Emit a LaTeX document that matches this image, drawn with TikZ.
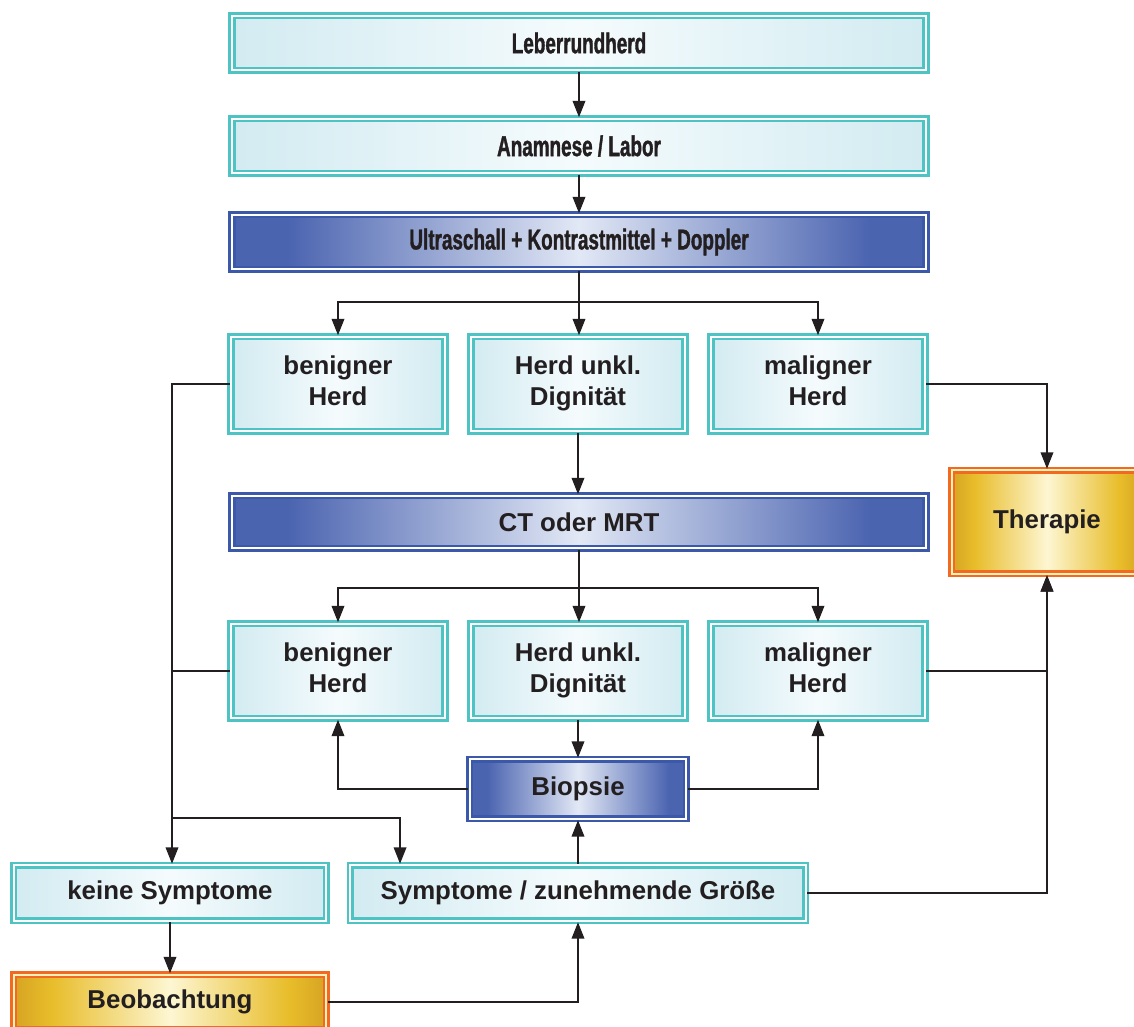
\documentclass[tikz,border=0pt]{standalone}
\usepackage{fontspec}
\setmainfont{Liberation Sans}
\newfontfamily\narrowsf{Liberation Sans}[FakeStretch=0.66,FakeBold=1.2]
\usepackage{tikz}
\usetikzlibrary{arrows.meta,positioning}

\definecolor{tealline}{HTML}{4DC3C3}
\definecolor{tealedge}{HTML}{D2EBF1}
\definecolor{tealmid}{HTML}{F5FBFD}
\definecolor{blueline}{HTML}{3C58A8}
\definecolor{blueedge}{HTML}{4B64B0}
\definecolor{bluemid}{HTML}{E2E8F5}
\definecolor{orangeline}{HTML}{F26A22}
\definecolor{golddark}{HTML}{D6A423}
\definecolor{goldedge}{HTML}{E8BD2A}
\definecolor{goldmid}{HTML}{FDF6D2}
\definecolor{goldgap}{HTML}{FFF1B8}
\definecolor{inkc}{HTML}{231F20}

\pgfdeclarehorizontalshading{tealfill}{100bp}{color(0bp)=(tealedge); color(25bp)=(tealedge); color(50bp)=(tealmid); color(75bp)=(tealedge); color(100bp)=(tealedge)}
\pgfdeclarehorizontalshading{bluefill}{100bp}{color(0bp)=(blueedge); color(25bp)=(blueedge); color(29bp)=(blueedge); color(50bp)=(bluemid); color(71bp)=(blueedge); color(75bp)=(blueedge); color(100bp)=(blueedge)}
\pgfdeclarehorizontalshading{goldfill}{100bp}{color(0bp)=(golddark); color(25bp)=(golddark); color(31bp)=(goldedge); color(50bp)=(goldmid); color(69bp)=(goldedge); color(75bp)=(golddark); color(100bp)=(golddark)}

\tikzset{
  box/.style={rectangle, line width=1.6pt, double distance=1pt, inner sep=0pt,
    align=center, text=inkc, font=\fontsize{14.7}{17.5}\selectfont\bfseries},
  tealbox/.style={box, draw=tealline, double=white, shading=tealfill},
  bluebox/.style={box, draw=blueline, double=white, shading=bluefill},
  goldbox/.style={box, draw=orangeline, double=goldgap, shading=goldfill},
  wide/.style={minimum width=13.88cm, minimum height=1.09cm},
  narrowtext/.style={font=\narrowsf\fontsize{16.3}{19}\selectfont\bfseries},
  small/.style={minimum width=4.28cm, minimum height=1.89cm, text depth=0.13cm},
  arr/.style={-{Triangle[length=0.33cm,width=0.25cm]}, line width=1.1pt, draw=inkc},
  link/.style={line width=1.1pt, draw=inkc}
}

\begin{document}
\begin{tikzpicture}[x=0.02cm, y=-0.02cm]
\useasboundingbox (0,0) rectangle (1134,1027);

% top chain
\node[tealbox, wide, narrowtext] (leber) at (579,43) {Leberrundherd};
\node[tealbox, wide, narrowtext] (anam) at (579,146) {Anamnese / Labor};
\node[bluebox, wide, narrowtext] (us) at (579,242) {Ultraschall + Kontrastmittel + Doppler};

% first findings
\node[tealbox, small] (ben1) at (338,384) {benigner\\Herd};
\node[tealbox, small] (unk1) at (578,384) {Herd unkl.\\Dignität};
\node[tealbox, small] (mal1) at (818,384) {maligner\\Herd};

\node[bluebox, minimum width=13.88cm, minimum height=1.05cm] (ct) at (579,522) {CT oder MRT};
\node[goldbox, minimum width=3.81cm, minimum height=2.07cm] (ther) at (1047,522) {Therapie};

% second findings
\node[tealbox, small] (ben2) at (338,671) {benigner\\Herd};
\node[tealbox, small] (unk2) at (578,671) {Herd unkl.\\Dignität};
\node[tealbox, small] (mal2) at (818,671) {maligner\\Herd};

\node[bluebox, minimum width=4.33cm, minimum height=1.19cm] (bio) at (578,789) {Biopsie};

% follow-up
\node[tealbox, minimum width=6.25cm, minimum height=1.11cm] (keine) at (170,893) {keine Symptome};
\node[tealbox, minimum width=9.11cm, minimum height=1.11cm] (sympt) at (578,893) {Symptome / zunehmende Größe};
\node[goldbox, minimum width=6.25cm, minimum height=1.09cm] (beob) at (170,1002) {Beobachtung};

% branch points
\coordinate (split1) at (579,302);
\coordinate (split2) at (579,588);
\coordinate (trunk) at (172,818);

\draw[arr] (leber) -- (anam);
\draw[arr] (anam) -- (us);
\draw[link] (us) -- (split1);
\draw[arr] (split1) -| (ben1);
\draw[arr] (split1) -- (split1 |- unk1.north);
\draw[arr] (split1) -| (mal1);

\draw[arr] (unk1) -- (unk1 |- ct.north);
\draw[arr] (mal1) -| (ther);

\draw[link] (ct) -- (split2);
\draw[arr] (split2) -| (ben2);
\draw[arr] (split2) -- (split2 |- unk2.north);
\draw[arr] (split2) -| (mal2);

% benign: follow-up
\draw[link] (ben1.west) -| (trunk);
\draw[link] (ben2.west) -- (ben2.west -| trunk);
\draw[arr] (trunk) -- (trunk |- keine.north);
\draw[arr] (trunk) -| ([xshift=-3.56cm]sympt.north);

% malignant: therapy
\draw[arr] (mal2) -| (ther);
\draw[arr] (sympt) -| (ther);

% biopsy
\draw[arr] (unk2) -- (bio);
\draw[arr] (bio) -| (ben2);
\draw[arr] (bio) -| (mal2);
\draw[arr] (sympt) -- (bio);

\draw[arr] (keine) -- (beob);
\draw[arr] (beob) -| (sympt);
\end{tikzpicture}
\end{document}
